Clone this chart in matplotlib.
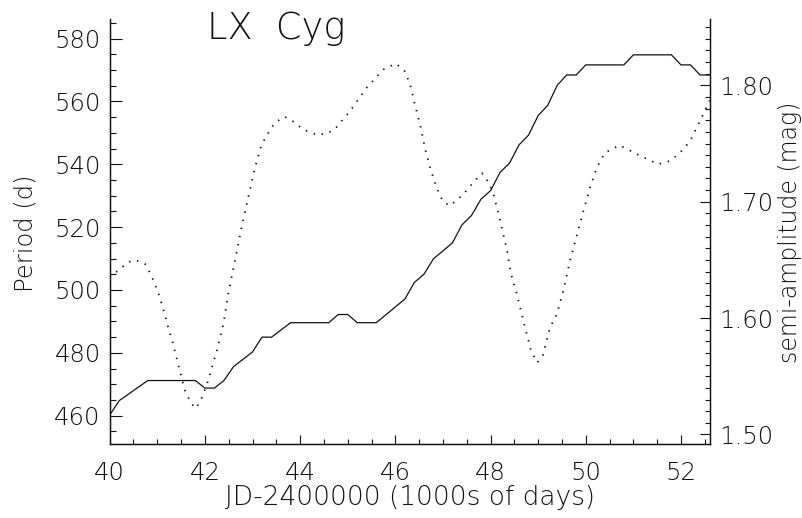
import matplotlib
matplotlib.use("Agg")
import matplotlib.pyplot as plt
from matplotlib.ticker import MultipleLocator, FormatStrFormatter

# ---- data ----
jd_period = [40.0, 40.2, 40.8, 41.8, 42.0, 42.2, 42.4, 42.6, 43.0, 43.2, 43.4, 43.8,
             44.6, 44.8, 45.0, 45.2, 45.6, 46.2, 46.4, 46.6, 46.8, 47.2, 47.4, 47.6,
             47.8, 48.0, 48.2, 48.4, 48.6, 48.8, 49.0, 49.2, 49.4, 49.6, 49.8, 50.0,
             50.8, 51.0, 51.8, 52.0, 52.2, 52.4, 52.6]
period = [460.2, 464.8, 471.2, 471.2, 468.8, 468.8, 471.2, 475.6, 480.3, 485.0, 485.0, 489.6,
          489.6, 492.2, 492.2, 489.6, 489.6, 497.1, 502.4, 505.0, 509.9, 515.0, 520.7, 523.7,
          528.9, 531.6, 537.4, 540.4, 546.2, 549.3, 555.5, 558.7, 565.1, 568.4, 568.4, 571.6,
          571.6, 574.8, 574.8, 571.6, 571.6, 568.4, 568.4]

jd_amp = [40.0, 40.18, 40.39, 40.53, 40.74, 40.86, 41.02, 41.13, 41.23, 41.34, 41.46, 41.58,
          41.71, 41.81, 41.93, 42.07, 42.25, 42.39, 42.49, 42.63, 42.77, 42.91, 43.05, 43.19,
          43.33, 43.47, 43.68, 43.85, 44.07, 44.38, 44.7, 45.05, 45.40, 45.75, 46.01, 46.2,
          46.31, 46.41, 46.52, 46.62, 46.73, 46.87, 47.0, 47.15, 47.43, 47.67, 47.82, 47.97,
          48.06, 48.16, 48.25, 48.34, 48.43, 48.55, 48.73, 48.85, 48.98, 49.1, 49.25, 49.39,
          49.53, 49.67, 49.81, 49.95, 50.09, 50.23, 50.4, 50.71, 51.07, 51.52, 51.77, 51.98,
          52.19, 52.4, 52.6]
amplitude = [1.635, 1.641, 1.648, 1.650, 1.6466, 1.638, 1.622, 1.607, 1.592, 1.5765, 1.5566, 1.538,
             1.5266, 1.5223, 1.531, 1.5465, 1.572, 1.595, 1.621, 1.649, 1.678, 1.7036, 1.729, 1.749,
             1.759, 1.768, 1.773, 1.769, 1.762, 1.757, 1.761, 1.778, 1.798, 1.8136, 1.8188, 1.812,
             1.8008, 1.7836, 1.7665, 1.7464, 1.729, 1.712, 1.700, 1.6965, 1.7065, 1.718, 1.7245, 1.716,
             1.7065, 1.691, 1.675, 1.6594, 1.638, 1.621, 1.591, 1.572, 1.5617, 1.568, 1.592, 1.603,
             1.6237, 1.6494, 1.6708, 1.692, 1.712, 1.729, 1.742, 1.7485, 1.741, 1.7322, 1.735, 1.742,
             1.752, 1.7694, 1.787]

title = "LX  Cyg"
xlabel = "JD-2400000 (1000s of days)"
ylabel_left = "Period (d)"
ylabel_right = "semi-amplitude (mag)"

# ---- style ----
plt.rcParams['font.family'] = ['DejaVu Sans']
plt.rcParams['font.weight'] = 'light'
txt = '#111111'

fig = plt.figure(figsize=(8.03, 5.18), dpi=100)
ax = fig.add_axes([0.1366, 0.1434, 0.7476, 0.8199])
ax2 = ax.twinx()

ax.plot(jd_period, period, color='#111111', lw=0.9, solid_joinstyle='miter')
ax2.plot(jd_amp, amplitude, color='#111111', lw=1.3, linestyle=(0, (0.8, 3.8)))

ax.set_xlim(40, 52.61)
ax.set_ylim(451.1, 586.2)
ax2.set_ylim(1.492, 1.857)

for a in (ax, ax2):
    a.spines['top'].set_visible(False)
    for s in a.spines.values():
        s.set_linewidth(0.9)
        s.set_color('#111111')

ax.xaxis.set_major_locator(MultipleLocator(2))
ax.xaxis.set_minor_locator(MultipleLocator(0.5))
ax.yaxis.set_major_locator(MultipleLocator(20))
ax.yaxis.set_minor_locator(MultipleLocator(5))
ax2.yaxis.set_major_locator(MultipleLocator(0.1))
ax2.yaxis.set_minor_locator(MultipleLocator(0.01))
ax2.yaxis.set_major_formatter(FormatStrFormatter('%.2f'))

tsize = 17.5
ax.tick_params(axis='x', which='major', direction='in', length=6.5, width=0.8, pad=12.5,
               labelsize=tsize, labelcolor=txt, color='#111111', top=False)
ax.tick_params(axis='x', which='minor', direction='in', length=3.3, width=0.8, top=False,
               color='#111111')
ax.tick_params(axis='y', which='major', direction='in', length=8.4, width=0.8, pad=6.5,
               labelsize=tsize, labelcolor=txt, color='#111111', right=False)
ax.tick_params(axis='y', which='minor', direction='in', length=4.1, width=0.8, right=False,
               color='#111111')
ax2.tick_params(axis='y', which='major', direction='in', length=7.2, width=0.8, pad=6.5,
                labelsize=tsize, labelcolor=txt, color='#111111', left=False)
ax2.tick_params(axis='y', which='minor', direction='in', length=3.6, width=0.8, left=False,
                color='#111111')

fig.text(207 / 803, 1 - 39 / 518, title, fontsize=26.5, color=txt, ha='left', va='baseline')
fig.text(409.9 / 803, 1 - 498 / 518, xlabel, fontsize=19, color=txt, ha='center', va='center')
fig.text(26 / 803, 1 - 233 / 518, ylabel_left, fontsize=17.5, color=txt, ha='center',
         va='center', rotation=90)
fig.text(790 / 803, 1 - 232 / 518, ylabel_right, fontsize=17, color=txt, ha='center',
         va='center', rotation=90)

fig.savefig('out.png', dpi=100, facecolor='white')
